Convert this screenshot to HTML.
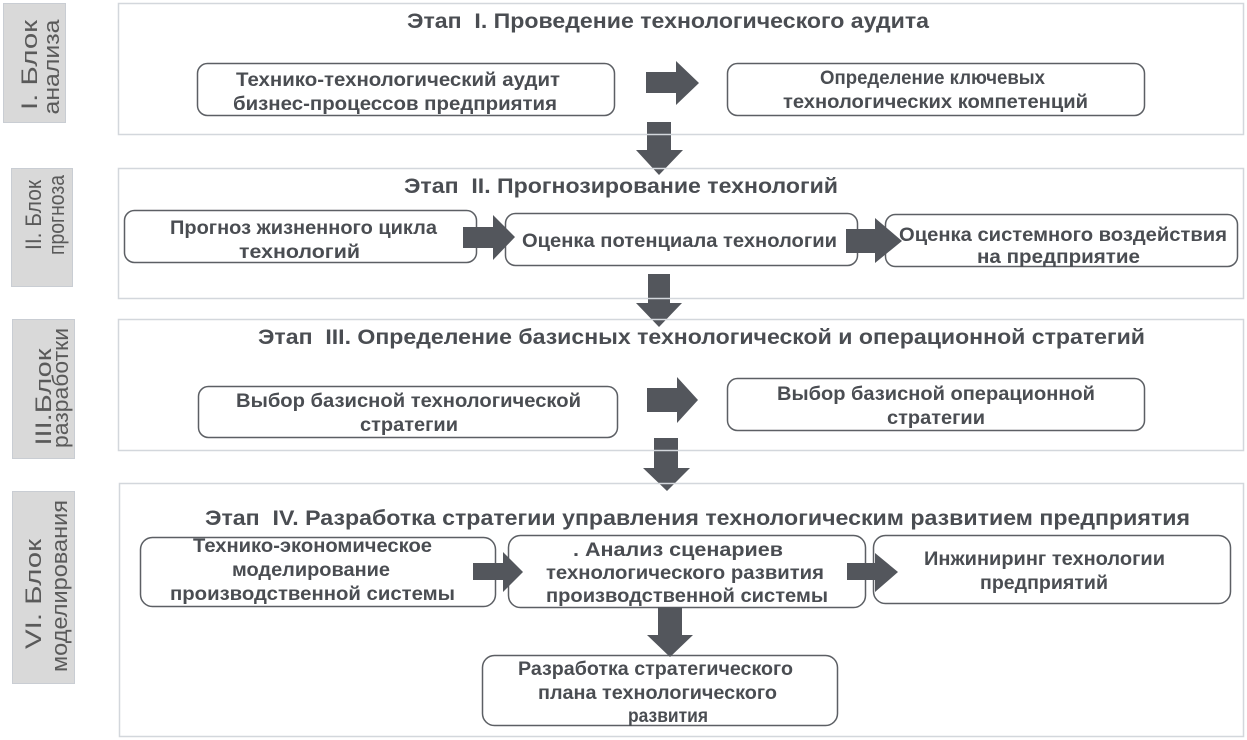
<!DOCTYPE html>
<html><head><meta charset="utf-8">
<style>
html,body{margin:0;padding:0;background:#fff;}
svg{display:block;}
.b{font-family:"Liberation Sans","DejaVu Sans",sans-serif;font-weight:bold;fill:#4a4d52;}
.h{font-family:"Liberation Sans","DejaVu Sans",sans-serif;font-weight:bold;fill:#4a4d52;font-size:21px;}
.t{font-size:19px;}
.l{font-family:"Liberation Sans","DejaVu Sans",sans-serif;font-size:22px;fill:#5a5a5a;}
</style></head>
<body>
<svg width="1247" height="740" viewBox="0 0 1247 740" xmlns="http://www.w3.org/2000/svg">
<rect x="0" y="0" width="1247" height="740" fill="#fff"/>

<!-- left labels -->
<g fill="#d9d9d9" stroke="#c9cdd3" stroke-width="1">
<rect x="3.5" y="3.5" width="62" height="119"/>
<rect x="11.5" y="168.5" width="61" height="118"/>
<rect x="12.5" y="319.5" width="62" height="139"/>
<rect x="12.5" y="491.5" width="62" height="192"/>
</g>
<g class="l">
<text transform="translate(37,65) rotate(-90)" x="-45" y="0" textLength="90" lengthAdjust="spacingAndGlyphs">I. Блок</text>
<text transform="translate(59,67) rotate(-90)" x="-47.5" y="0" textLength="95" lengthAdjust="spacingAndGlyphs">анализа</text>
<text transform="translate(41,215) rotate(-90)" x="-35" y="0" textLength="70" lengthAdjust="spacingAndGlyphs">II. Блок</text>
<text transform="translate(64,215) rotate(-90)" x="-40" y="0" textLength="80" lengthAdjust="spacingAndGlyphs">прогноза</text>
<text transform="translate(51,397) rotate(-90)" x="-48.5" y="0" textLength="97" lengthAdjust="spacingAndGlyphs">III.Блок</text>
<text transform="translate(68,388) rotate(-90)" x="-60" y="0" textLength="120" lengthAdjust="spacingAndGlyphs">разработки</text>
<text transform="translate(41,594) rotate(-90)" x="-55" y="0" textLength="110" lengthAdjust="spacingAndGlyphs">VI. Блок</text>
<text transform="translate(67,586) rotate(-90)" x="-86" y="0" textLength="172" lengthAdjust="spacingAndGlyphs">моделирования</text>
</g>

<!-- panel fills -->
<g fill="#fff" stroke="none">
<rect x="118.5" y="3.5" width="1125" height="131"/>
<rect x="118.5" y="168.5" width="1125" height="130"/>
<rect x="118.5" y="319.5" width="1125" height="131"/>
<rect x="119.5" y="483.5" width="1124" height="253"/>
</g>

<!-- inner boxes -->
<g fill="#fff" stroke="#5c5f64" stroke-width="1.5">
<rect x="197.5" y="63.5" width="417" height="52" rx="10"/>
<rect x="727.5" y="63.5" width="417" height="52" rx="10"/>
<rect x="124.5" y="210.5" width="352" height="52" rx="10"/>
<rect x="505.5" y="213.5" width="352" height="52" rx="10"/>
<rect x="885.5" y="214.5" width="352" height="52" rx="10"/>
<rect x="198.5" y="386.5" width="419" height="51" rx="10"/>
<rect x="727.5" y="378.5" width="417" height="52" rx="10"/>
<rect x="140.5" y="537.5" width="355" height="69" rx="12"/>
<rect x="508.5" y="535.5" width="357" height="72" rx="12"/>
<rect x="873.5" y="535.5" width="357" height="68" rx="12"/>
<rect x="482.5" y="655.5" width="355" height="70" rx="12"/>
</g>

<!-- arrows -->
<g fill="#53565c">
<polygon points="646,72 676,72 676,61 699,83 676,105 676,93 646,93"/>
<polygon points="647,122 671,122 671,150 683,150 659,175 636,150 647,150"/>
<polygon points="463,227 493,227 493,215 515,237 493,260 493,248 463,248"/>
<polygon points="846,229 875,229 875,218 902,241 875,263 875,253 846,253"/>
<polygon points="648,274 670,274 670,303 682,303 659,327 636,303 648,303"/>
<polygon points="647,388 677,388 677,377 698,400 677,423 677,412 647,412"/>
<polygon points="654,438 678,438 678,468 690,468 667,491 643,468 654,468"/>
<polygon points="473,563 503,563 503,552 523,572 503,592 503,580 473,580"/>
<polygon points="847,563 875,563 875,553 898,572 875,592 875,580 847,580"/>
<polygon points="658,607 682,607 682,635 693,635 670,657 647,635 658,635"/>
</g>

<!-- panel borders -->
<g fill="none" stroke="#d3d7dc" stroke-width="1.5">
<rect x="118.5" y="3.5" width="1125" height="131"/>
<rect x="118.5" y="168.5" width="1125" height="130"/>
<rect x="118.5" y="319.5" width="1125" height="131"/>
<rect x="119.5" y="483.5" width="1124" height="253"/>
</g>

<!-- headers -->
<text class="h" x="407" y="28" textLength="522" lengthAdjust="spacingAndGlyphs">Этап&#160; I. Проведение технологического аудита</text>
<text class="h" x="404" y="193" textLength="434" lengthAdjust="spacingAndGlyphs">Этап&#160; II. Прогнозирование технологий</text>
<text class="h" x="258" y="344" textLength="887" lengthAdjust="spacingAndGlyphs">Этап&#160; III. Определение базисных технологической и операционной стратегий</text>
<text class="h" x="205" y="525" textLength="985" lengthAdjust="spacingAndGlyphs">Этап&#160; IV. Разработка стратегии управления технологическим развитием предприятия</text>

<!-- box texts -->
<g class="b t">
<text x="236" y="86" textLength="324" lengthAdjust="spacingAndGlyphs">Технико-технологический аудит</text>
<text x="233" y="110" textLength="324" lengthAdjust="spacingAndGlyphs">бизнес-процессов предприятия</text>
<text x="820" y="84" textLength="225" lengthAdjust="spacingAndGlyphs">Определение ключевых</text>
<text x="783" y="108" textLength="305" lengthAdjust="spacingAndGlyphs">технологических компетенций</text>

<text x="170" y="234" textLength="267" lengthAdjust="spacingAndGlyphs">Прогноз жизненного цикла</text>
<text x="239" y="258" textLength="121" lengthAdjust="spacingAndGlyphs">технологий</text>
<text x="522" y="247" textLength="315" lengthAdjust="spacingAndGlyphs">Оценка потенциала технологии</text>
<text x="899" y="241" textLength="328" lengthAdjust="spacingAndGlyphs">Оценка системного воздействия</text>
<text x="977" y="263" textLength="163" lengthAdjust="spacingAndGlyphs">на предприятие</text>

<text x="236" y="407" textLength="345" lengthAdjust="spacingAndGlyphs">Выбор базисной технологической</text>
<text x="360" y="431" textLength="98" lengthAdjust="spacingAndGlyphs">стратегии</text>
<text x="777" y="400" textLength="318" lengthAdjust="spacingAndGlyphs">Выбор базисной операционной</text>
<text x="887" y="424" textLength="98" lengthAdjust="spacingAndGlyphs">стратегии</text>

<text x="193" y="552" textLength="239" lengthAdjust="spacingAndGlyphs">Технико-экономическое</text>
<text x="232" y="576" textLength="158" lengthAdjust="spacingAndGlyphs">моделирование</text>
<text x="170" y="600" textLength="285" lengthAdjust="spacingAndGlyphs">производственной системы</text>

<text x="573" y="556" textLength="210" lengthAdjust="spacingAndGlyphs">. Анализ сценариев</text>
<text x="546" y="579" textLength="278" lengthAdjust="spacingAndGlyphs">технологического развития</text>
<text x="546" y="602" textLength="282" lengthAdjust="spacingAndGlyphs">производственной системы</text>

<text x="924" y="565" textLength="241" lengthAdjust="spacingAndGlyphs">Инжиниринг технологии</text>
<text x="980" y="589" textLength="128" lengthAdjust="spacingAndGlyphs">предприятий</text>

<text x="518" y="675" textLength="275" lengthAdjust="spacingAndGlyphs">Разработка стратегического</text>
<text x="538" y="699" textLength="239" lengthAdjust="spacingAndGlyphs">плана технологического</text>
<text x="628" y="722" textLength="80" lengthAdjust="spacingAndGlyphs">развития</text>
</g>
</svg>
</body></html>
